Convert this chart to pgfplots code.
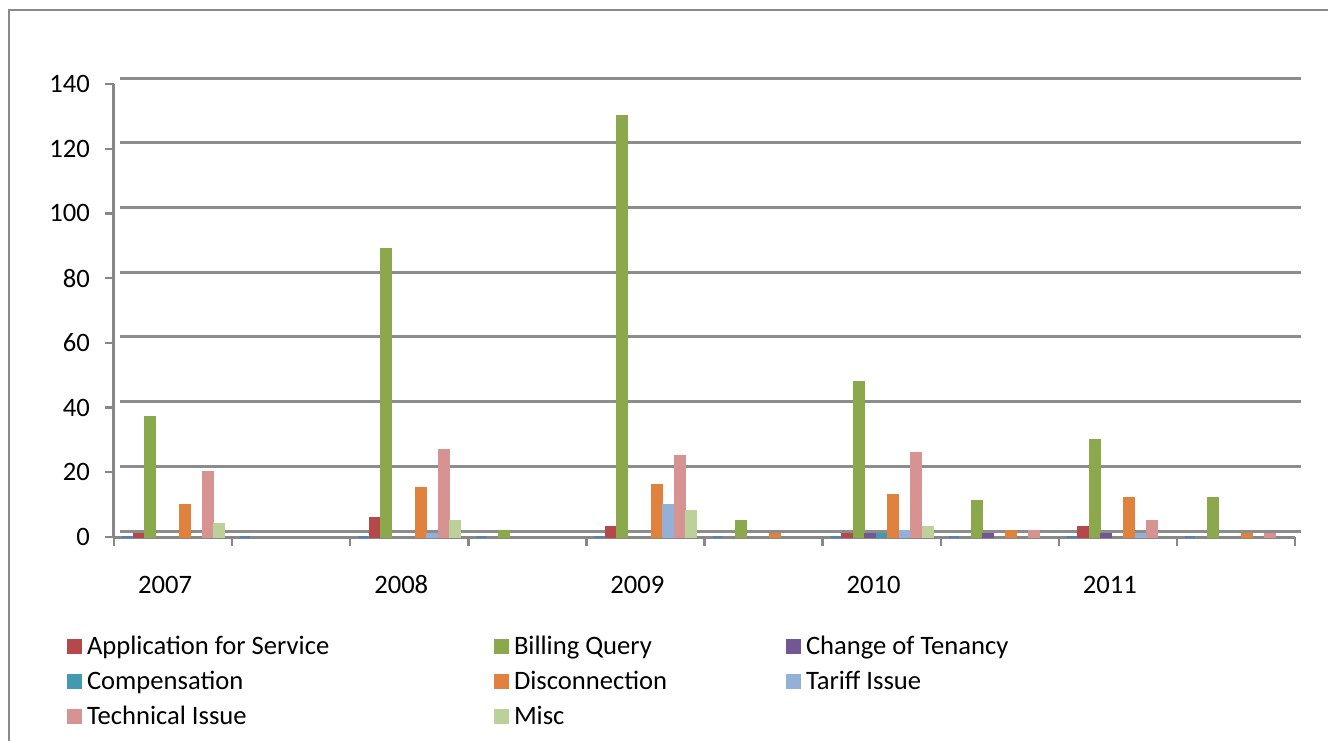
\documentclass[border=0pt]{standalone}
\usepackage{fontspec}
\setmainfont{Carlito}
\usepackage{pgfplots}
\pgfplotsset{compat=1.18}

\definecolor{serBlue}{HTML}{4F81BD}
\definecolor{serApp}{HTML}{B5484A}
\definecolor{serBill}{HTML}{8CA84C}
\definecolor{serTen}{HTML}{735694}
\definecolor{serComp}{HTML}{4399AE}
\definecolor{serDisc}{HTML}{E0823D}
\definecolor{serTar}{HTML}{95B0D6}
\definecolor{serTech}{HTML}{D69391}
\definecolor{serMisc}{HTML}{BBD199}
\definecolor{axisgray}{HTML}{878787}
\definecolor{gridgray}{HTML}{8C8C8C}
\definecolor{framegray}{HTML}{8A8A8A}

\begin{document}
\begin{tikzpicture}[x=1pt, y=1pt, font=\fontsize{13.3pt}{16pt}\selectfont]
\path[use as bounding box] (0,0) rectangle (664,370);
\draw[framegray, line width=1pt] (4.5,-20) rectangle (700,365);
\begin{axis}[
    at={(57pt,101.5pt)}, anchor=south west,
    scale only axis,
    width=590.5pt, height=226.5pt,
    xmin=-0.5, xmax=9.5,
    ymin=0, ymax=140,
    ybar, bar width=5pt,
    axis x line*=bottom, axis y line*=left,
    axis line style={-, line width=1.5pt, color=axisgray},
    ytick={0,20,...,140},
    xtick={0,2,4,6,8},
    xticklabels={2007,2008,2009,2010,2011},
    minor xtick={-0.5,0.5,...,9.5},
    major x tick style={draw=none},
    tick align=outside,
    major tick length=4.5pt, minor tick length=4.5pt,
    tick style={line width=1.2pt, color=axisgray},
    ymajorgrids,
    major grid style={line width=1.5pt, color=gridgray, xshift=3pt, yshift=3pt},
    yticklabel style={xshift=-4pt},
    xticklabel style={yshift=-11pt, xshift=-4pt, text height=9pt, text depth=0pt},
    /pgf/number format/assume math mode=true,
    legend columns=3,
    legend cell align=left,
    legend image code/.code={\fill[#1] (0pt,-2.5pt) rectangle (6.5pt,4pt);},
    legend style={draw=none, fill=none, inner sep=0pt, outer sep=0pt,
        at={(-0.0398,-0.2185)}, anchor=north west,
        row sep=5pt,
        nodes={inner sep=0pt, text height=9.5pt, text depth=3pt},
        /tikz/every odd column/.append style={column sep=2.5pt}},
]
% series 1 (not in the legend): zero in every category
\addplot[forget plot, fill=serBlue, draw=serBlue, line width=1pt, bar shift=-23pt]
    coordinates {(0,0) (1,0) (2,0) (3,0) (4,0) (5,0) (6,0) (7,0) (8,0) (9,0)};
\addplot[fill=serApp, draw=serApp, line width=1pt, bar shift=-17.25pt]
    coordinates {(0,1) (2,6) (4,3) (6,1) (8,3)};
\addlegendentry{\makebox[203.5pt][l]{Application for Service}}
\addplot[fill=serBill, draw=serBill, line width=1pt, bar shift=-11.5pt]
    coordinates {(0,37) (2,89) (3,2) (4,130) (5,5) (6,48) (7,11) (8,30) (9,12)};
\addlegendentry{\makebox[136pt][l]{Billing Query}}
\addplot[fill=serTen, draw=serTen, line width=1pt, bar shift=-5.75pt]
    coordinates {(6,1) (7,1) (8,1)};
\addlegendentry{Change of Tenancy}
\addplot[fill=serComp, draw=serComp, line width=1pt, bar shift=0pt]
    coordinates {(6,1)};
\addlegendentry{\makebox[203.5pt][l]{Compensation}}
\addplot[fill=serDisc, draw=serDisc, line width=1pt, bar shift=5.75pt]
    coordinates {(0,10) (2,15) (4,16) (5,1) (6,13) (7,2) (8,12) (9,1)};
\addlegendentry{\makebox[136pt][l]{Disconnection}}
\addplot[fill=serTar, draw=serTar, line width=1pt, bar shift=11.5pt]
    coordinates {(2,1) (4,10) (6,2) (8,1)};
\addlegendentry{Tariff Issue}
\addplot[fill=serTech, draw=serTech, line width=1pt, bar shift=17.25pt]
    coordinates {(0,20) (2,27) (4,25) (6,26) (7,2) (8,5) (9,1)};
\addlegendentry{\makebox[203.5pt][l]{Technical Issue}}
\addplot[fill=serMisc, draw=serMisc, line width=1pt, bar shift=23pt]
    coordinates {(0,4) (2,5) (4,8) (6,3)};
\addlegendentry{\makebox[136pt][l]{Misc}}
\end{axis}
\end{tikzpicture}
\end{document}
